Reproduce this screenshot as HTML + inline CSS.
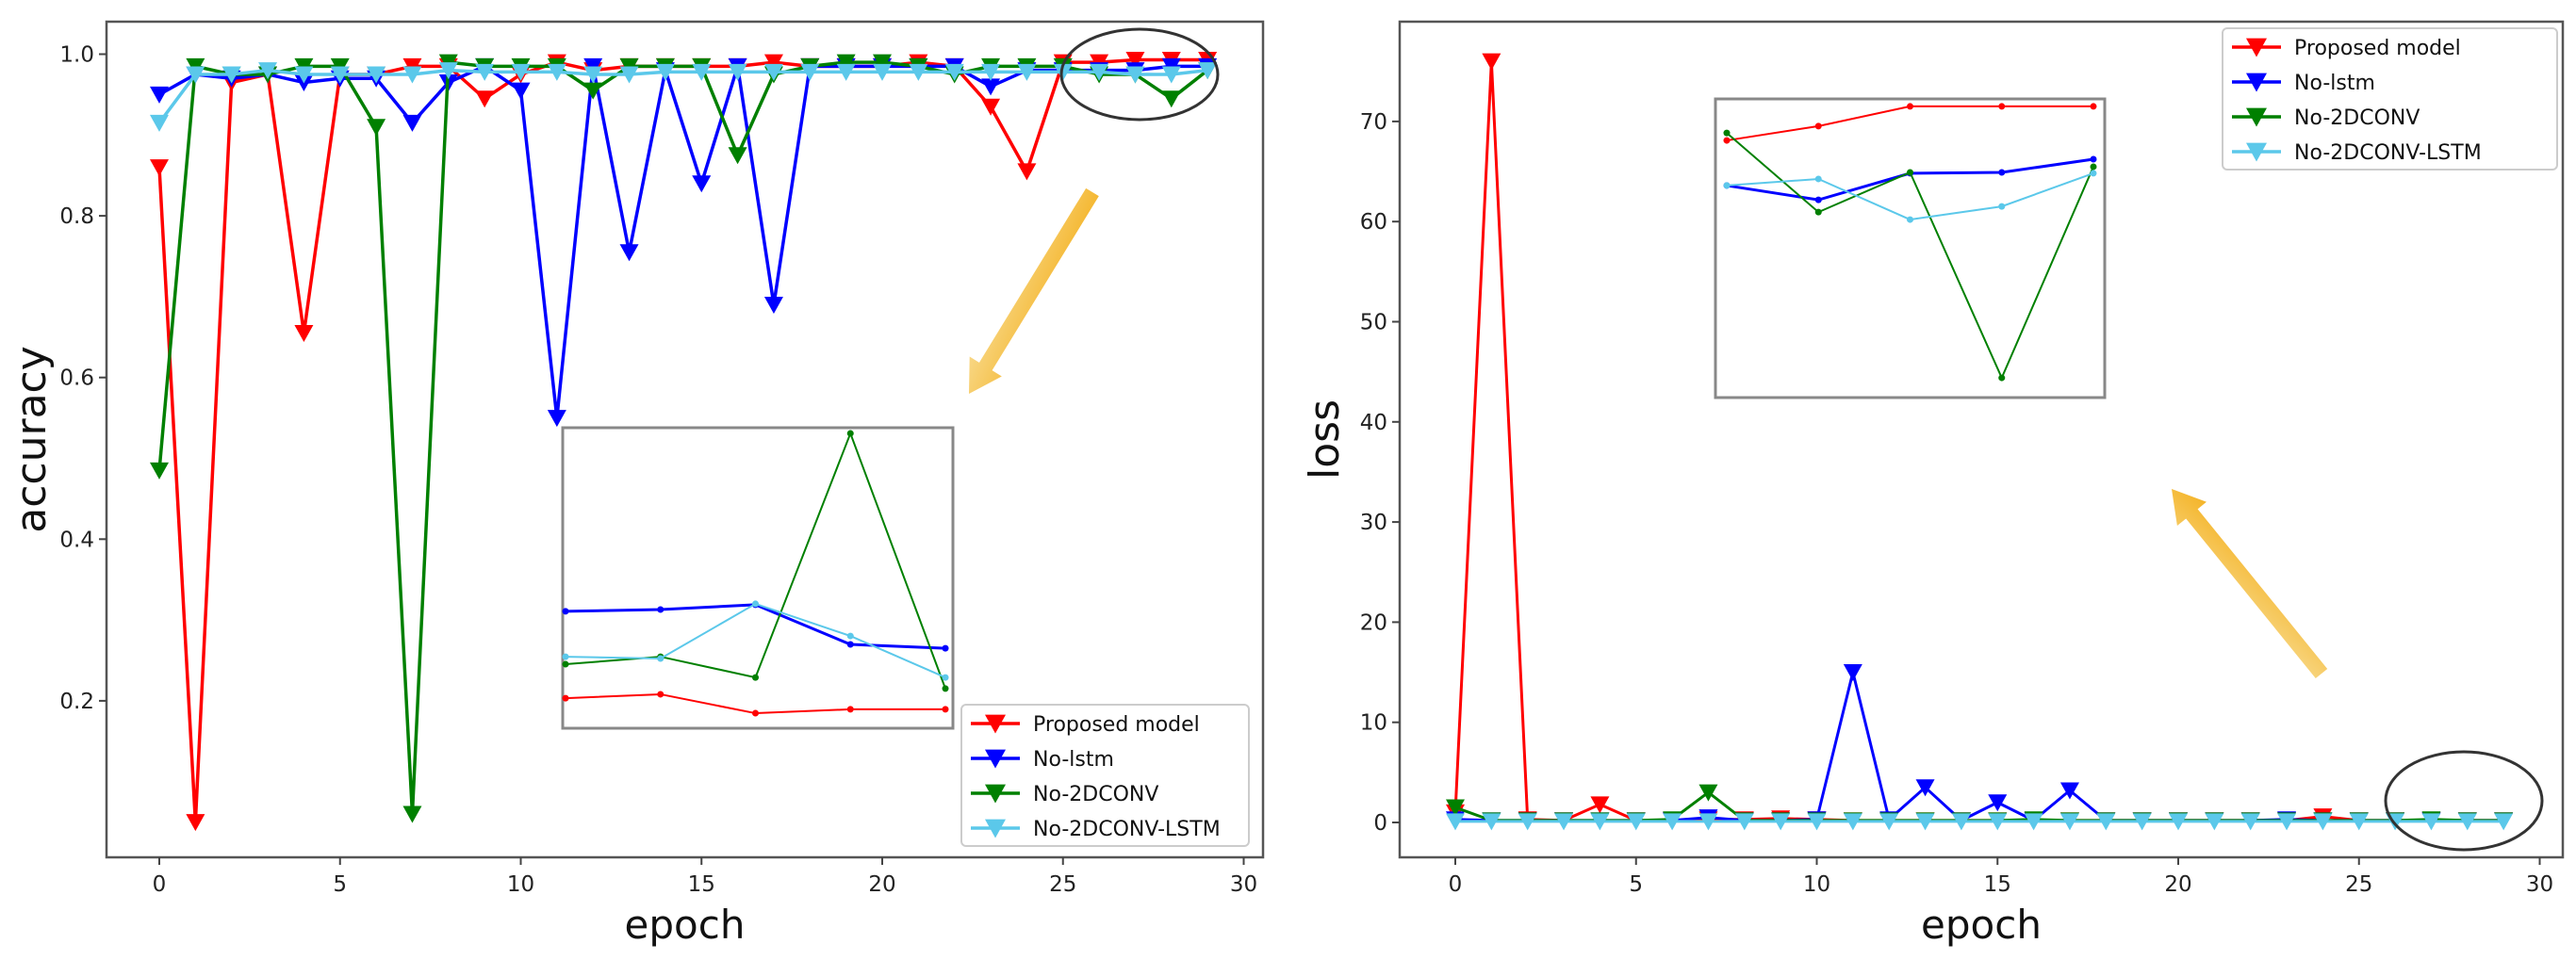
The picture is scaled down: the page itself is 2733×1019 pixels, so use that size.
<!DOCTYPE html>
<html><head><meta charset="utf-8"><style>
html,body{margin:0;padding:0;background:#fff;}
svg{display:block;font-family:"DejaVu Sans","Liberation Sans",sans-serif;}
</style></head><body>
<svg id="svg" width="2733" height="1019" viewBox="0 0 2733 1019" xmlns="http://www.w3.org/2000/svg">
<defs>
<linearGradient id="ag1" x1="0" y1="0" x2="1" y2="1"><stop offset="0" stop-color="#f4b223"/><stop offset="1" stop-color="#f8d98a"/></linearGradient>
<linearGradient id="ag2" x1="1" y1="1" x2="0" y2="0"><stop offset="0" stop-color="#f4b223"/><stop offset="1" stop-color="#f8d98a"/></linearGradient>
</defs>
</svg>
<script>
const epochs=[0,1,2,3,4,5,6,7,8,9,10,11,12,13,14,15,16,17,18,19,20,21,22,23,24,25,26,27,28,29];
const seriesNames=["Proposed model","No-lstm","No-2DCONV","No-2DCONV-LSTM"];
const colors=["#ff0000","#0000ff","#008000","#5bc8ea"];
const accProposed=[0.86,0.05,0.965,0.975,0.655,0.975,0.975,0.985,0.985,0.945,0.975,0.99,0.98,0.985,0.985,0.985,0.985,0.99,0.985,0.985,0.985,0.99,0.985,0.935,0.855,0.99,0.99,0.993,0.993,0.993];
const accNoLstm=[0.95,0.975,0.97,0.975,0.965,0.97,0.97,0.915,0.965,0.985,0.955,0.55,0.985,0.755,0.98,0.84,0.985,0.69,0.985,0.985,0.985,0.985,0.985,0.96,0.98,0.98,0.98,0.98,0.985,0.985];
const accNo2D=[0.485,0.985,0.975,0.975,0.985,0.985,0.91,0.06,0.99,0.985,0.985,0.985,0.955,0.985,0.985,0.985,0.875,0.975,0.985,0.99,0.99,0.985,0.975,0.985,0.985,0.985,0.975,0.975,0.945,0.98];
const accNo2DLstm=[0.915,0.975,0.975,0.98,0.975,0.975,0.975,0.975,0.98,0.978,0.978,0.978,0.975,0.975,0.978,0.978,0.978,0.978,0.978,0.978,0.978,0.978,0.978,0.978,0.978,0.978,0.978,0.975,0.975,0.98];
const lossProposed=[1,76,0.3,0.2,1.8,0.2,0.2,0.3,0.3,0.4,0.3,0.2,0.2,0.2,0.2,0.2,0.2,0.2,0.2,0.2,0.2,0.2,0.2,0.2,0.6,0.2,0.2,0.2,0.2,0.2];
const lossNoLstm=[0.3,0.2,0.2,0.2,0.2,0.2,0.2,0.5,0.2,0.2,0.3,15,0.3,3.5,0.2,2,0.2,3.2,0.2,0.2,0.2,0.2,0.2,0.3,0.2,0.2,0.2,0.2,0.2,0.2];
const lossNo2D=[1.5,0.2,0.2,0.2,0.2,0.2,0.3,3,0.2,0.2,0.2,0.2,0.2,0.2,0.2,0.2,0.3,0.2,0.2,0.2,0.2,0.2,0.2,0.2,0.2,0.2,0.2,0.3,0.2,0.2];
const lossNo2DLstm=[0.1,0.1,0.1,0.1,0.1,0.1,0.1,0.1,0.1,0.1,0.1,0.1,0.1,0.1,0.1,0.1,0.1,0.1,0.1,0.1,0.1,0.1,0.1,0.1,0.1,0.1,0.1,0.1,0.1,0.1];
const accTicks=[0.2,0.4,0.6,0.8,1.0];
const accTickLabels=["0.2","0.4","0.6","0.8","1.0"];
const lossTicks=[0,10,20,30,40,50,60,70];
const epochTicks=[0,5,10,15,20,25,30];
// inset (zoomed, relative 0-100 units) for epochs 25-29
const insetAccProposed=[10.0,11.3,5.0,6.3,6.3];
const insetAccNoLstm=[38.9,39.5,41.1,27.9,26.6];
const insetAccNo2D=[21.3,23.8,16.9,98.1,13.2];
const insetAccNo2DLstm=[23.8,23.2,41.4,30.7,16.9];
const insetLossProposed=[86.1,90.9,97.5,97.5,97.5];
const insetLossNoLstm=[71.0,66.2,75.1,75.4,79.8];
const insetLossNo2D=[88.6,62.1,75.4,6.6,77.3];
const insetLossNo2DLstm=[71.0,73.2,59.6,64.0,75.1];

const NS="http://www.w3.org/2000/svg";
const svg=document.getElementById('svg');
function mk(tag,attrs,parent){const e=document.createElementNS(NS,tag);for(const k in attrs)e.setAttribute(k,attrs[k]);(parent||svg).appendChild(e);return e;}
function tri(x,y,s){return `${x-s},${y-s*0.85} ${x+s},${y-s*0.85} ${x},${y+s*0.95}`;}

function drawPanel(o){
  const g=mk('g',{});
  
  
  const xs=e=>o.x0+e*o.dx;
  const ys=o.ys;
  const f=mk('rect',{x:o.L,y:o.T,width:o.R-o.L,height:o.B-o.T,fill:'none',stroke:'#555','stroke-width':2.5},g);
  
  o.yt.forEach((v,i)=>{const y=ys(v);
    mk('line',{x1:o.L-8,x2:o.L,y1:y,y2:y,stroke:'#444','stroke-width':2},g);
    const t=mk('text',{x:o.L-13,y:y+8,'text-anchor':'end','font-size':23,fill:'#222'},g);t.textContent=o.ytl[i];
    });
  epochTicks.forEach(v=>{const x=xs(v);
    mk('line',{x1:x,x2:x,y1:o.B,y2:o.B+8,stroke:'#444','stroke-width':2},g);
    const t=mk('text',{x:x,y:o.B+36,'text-anchor':'middle','font-size':23,fill:'#222'},g);t.textContent=v;
    });
  const xl=mk('text',{x:(o.L+o.R)/2,y:o.B+86,'text-anchor':'middle','font-size':42,fill:'#111'},g);xl.textContent='epoch';
  
  const yl=mk('text',{x:0,y:0,'text-anchor':'middle','font-size':44,fill:'#111',transform:`translate(${o.L-65},${(o.T+o.B)/2}) rotate(-90)`},g);yl.textContent=o.ylabel;
  
  o.series.forEach((arr,si)=>{
    const pts=arr.map((v,i)=>`${xs(epochs[i])},${ys(v)}`).join(' ');
    const pl=mk('polyline',{points:pts,fill:'none',stroke:colors[si],'stroke-width':o.lw,'stroke-linejoin':'round'},g);
    
    
    arr.forEach((v,i)=>{const m=mk('polygon',{points:tri(xs(epochs[i]),ys(v),10),fill:colors[si]},g);
      });
  });
  // legend
  const lg=mk('g',{},g);
  
  mk('rect',{x:o.lx,y:o.ly,width:o.lw2,height:150,fill:'#fff','fill-opacity':0.85,stroke:'#ccc','stroke-width':2,rx:5},lg);
  seriesNames.forEach((n,i)=>{const y=o.ly+20+i*37;
    const e=mk('g',{},lg);
    mk('line',{x1:o.lx+10,x2:o.lx+62,y1:y,y2:y,stroke:colors[i],'stroke-width':3.5},e);
    mk('polygon',{points:tri(o.lx+36,y,11),fill:colors[i]},e);
    const t=mk('text',{x:o.lx+76,y:y+8,'font-size':22,fill:'#111'},e);t.textContent=n;});
}
function drawInset(o){
  const g=mk('g',{});
  
  mk('rect',{x:o.L,y:o.T,width:o.W,height:o.H,fill:'#fff',stroke:'#888','stroke-width':3},g);
  const ys=v=>o.T+(100-v)/100*o.H;
  o.series.forEach((arr,si)=>{
    const pts=arr.map((v,i)=>`${o.x0+i*o.dx},${ys(v)}`).join(' ');
    const pl=mk('polyline',{points:pts,fill:'none',stroke:colors[si],'stroke-width':si==1?3:2},g);
    
    arr.forEach((v,i)=>mk('circle',{cx:o.x0+i*o.dx,cy:ys(v),r:3.5,fill:colors[si]},g));
  });
}
drawPanel({name:'accuracy-chart',L:113,R:1340,T:23,B:910,x0:169,dx:38.35,ys:v=>57.5+(1-v)*858,
  yt:accTicks,ytl:accTickLabels,ylabel:'accuracy',lw:3.5,
  series:[accProposed,accNoLstm,accNo2D,accNo2DLstm],lx:1020,ly:748,lw2:305});
drawPanel({name:'loss-chart',L:1485,R:2719,T:23,B:910,x0:1544,dx:38.35,ys:v=>873-v*10.63,
  yt:lossTicks,ytl:lossTicks.map(String),ylabel:'loss',lw:3,
  series:[lossProposed,lossNoLstm,lossNo2D,lossNo2DLstm],lx:2358,ly:30,lw2:355});
drawInset({name:'accuracy-inset',L:597,T:454,W:414,H:319,x0:600,dx:100.75,
  series:[insetAccProposed,insetAccNoLstm,insetAccNo2D,insetAccNo2DLstm]});
drawInset({name:'loss-inset',L:1820,T:105,W:413,H:317,x0:1832,dx:97.25,
  series:[insetLossProposed,insetLossNoLstm,insetLossNo2D,insetLossNo2DLstm]});
// ellipses
let e1=mk('ellipse',{cx:1209,cy:79,rx:83,ry:48,fill:'none',stroke:'#333','stroke-width':3});

let e2=mk('ellipse',{cx:2614,cy:850,rx:83,ry:52,fill:'none',stroke:'#333','stroke-width':3});

// arrows
function arrow(x1,y1,x2,y2,grad,name){
  const a=Math.atan2(y2-y1,x2-x1),len=Math.hypot(x2-x1,y2-y1);
  const g=mk('g',{transform:`translate(${x1},${y1}) rotate(${a*180/Math.PI})`});
  
  mk('polygon',{points:`0,-8 ${len-34},-8 ${len-34},-20 ${len},0 ${len-34},20 ${len-34},8 0,8`,fill:grad},g);
}
arrow(1159,204,1028,418,'url(#ag1)','arrow-accuracy');
arrow(2463,715,2304,519,'url(#ag2)','arrow-loss');
</script>
</body></html>
